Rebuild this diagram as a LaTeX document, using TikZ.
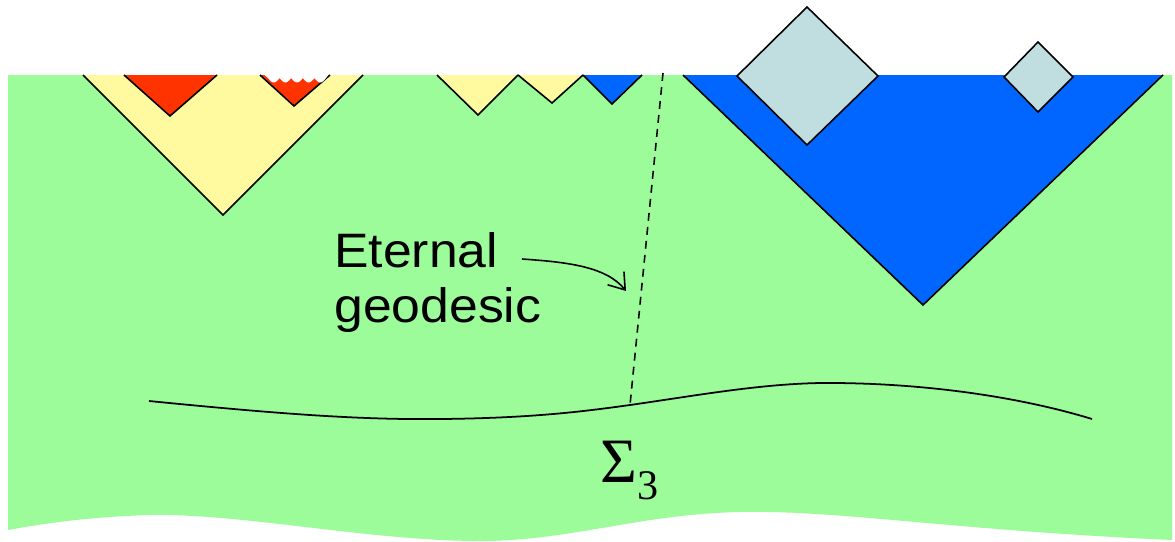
\documentclass[tikz,border=0pt]{standalone}
\usepackage{fontspec}
\usepackage{graphicx}
\newfontfamily\labelfont{Liberation Sans}
\newfontfamily\sigfont{Liberation Serif}
\usetikzlibrary{arrows.meta}
\definecolor{bggreen}{RGB}{155,252,153}
\definecolor{coneyellow}{RGB}{255,250,160}
\definecolor{conered}{RGB}{255,51,0}
\definecolor{coneblue}{RGB}{0,102,255}
\definecolor{diamondblue}{RGB}{192,222,224}
\tikzset{
  edgeline/.style={draw=black, line width=0.9pt, line join=miter},
  txt/.style={font=\labelfont\fontsize{27.5}{33}\selectfont, inner sep=0pt},
  conn/.style={line width=0.9pt}
}
\begin{document}
\begin{tikzpicture}[x=0.02cm, y=-0.02cm]
\useasboundingbox (0,0) rectangle (1175,541);
\fill[white] (0,0) rectangle (1175,541);
% green spacetime region
\fill[bggreen] (8,75) -- (1172,75) -- (1172,540)
  .. controls (950,530) and (840,510) .. (740,512)
  .. controls (640,514) and (570,541) .. (480,541)
  .. controls (370,541) and (240,513) .. (150,515)
  .. controls (80,517) and (30,526) .. (8,530) -- cycle;
% big yellow cone
\fill[coneyellow] (83,75) -- (223,215) -- (363,75) -- cycle;
\draw[edgeline] (83,75) -- (223,215) -- (363,75);
% red cones
\fill[conered] (124,75) -- (170,116) -- (217,75) -- cycle;
\draw[edgeline] (124,75) -- (170,116) -- (217,75);
\fill[conered] (260,75) -- (294,106) -- (330,75) -- cycle;
\draw[edgeline] (260,75) -- (294,106) -- (330,75);
\fill[white] (262,73) -- (268,78)
  -- plot[domain=268:326, samples=90] (\x,{78+4.5*abs(sin(180*(\x-268)/11.6))})
  -- (330,73) -- cycle;
% small yellow cones
\fill[coneyellow] (437,75) -- (478,115) -- (518,75) -- cycle;
\draw[edgeline] (437,75) -- (478,115) -- (518,75);
\fill[coneyellow] (518,75) -- (552,103) -- (583,75) -- cycle;
\draw[edgeline] (518,75) -- (552,103) -- (583,75);
% small blue cone
\fill[coneblue] (583,75) -- (612,104) -- (642,75) -- cycle;
\draw[edgeline] (583,75) -- (612,104) -- (642,75);
% big blue cone
\fill[coneblue] (683,75) -- (923,305) -- (1163,75) -- cycle;
\draw[edgeline] (683,75) -- (923,305) -- (1163,75);
% diamonds
\filldraw[fill=diamondblue, edgeline] (737,76) -- (807,7) -- (878,76) -- (807,145) -- cycle;
\filldraw[fill=diamondblue, edgeline] (1004,77) -- (1038,42) -- (1073,77) -- (1038,112) -- cycle;
% Cauchy surface Sigma_3
\coordinate (sig) at (630,405);
\coordinate (geotop) at (663,73);
\draw[line width=1pt] (149,401) .. controls (280,414) and (360,420) .. (442,419)
  .. controls (530,418) and (580,412) .. (sig)
  .. controls (700,395) and (770,382) .. (836,383)
  .. controls (940,384) and (1030,400) .. (1092,419);
% eternal geodesic
\draw[conn, dash pattern=on 4.5pt off 3.5pt] (geotop) -- (sig);
% labels
\node[txt, anchor=base west] (eternal) at (334,267) {\scalebox{1.07}[1]{Eternal}};
\node[txt, anchor=base west] (geodesic) at (334,322) {\scalebox{1.07}[1]{geodesic}};
\node[anchor=base west, inner sep=0pt, font=\sigfont\fontsize{36}{40}\selectfont] (sigma) at (600,482)
  {Σ\raisebox{-10pt}{\fontsize{24}{24}\selectfont 3}};
% arrow
\coordinate (arrs) at (522,259);
\coordinate (arre) at (626,291);
\draw[conn, -{Straight Barb[length=0.3cm,width=0.42cm]}] (arrs) .. controls (565,262) and (606,266) .. (arre);
\end{tikzpicture}
\end{document}
